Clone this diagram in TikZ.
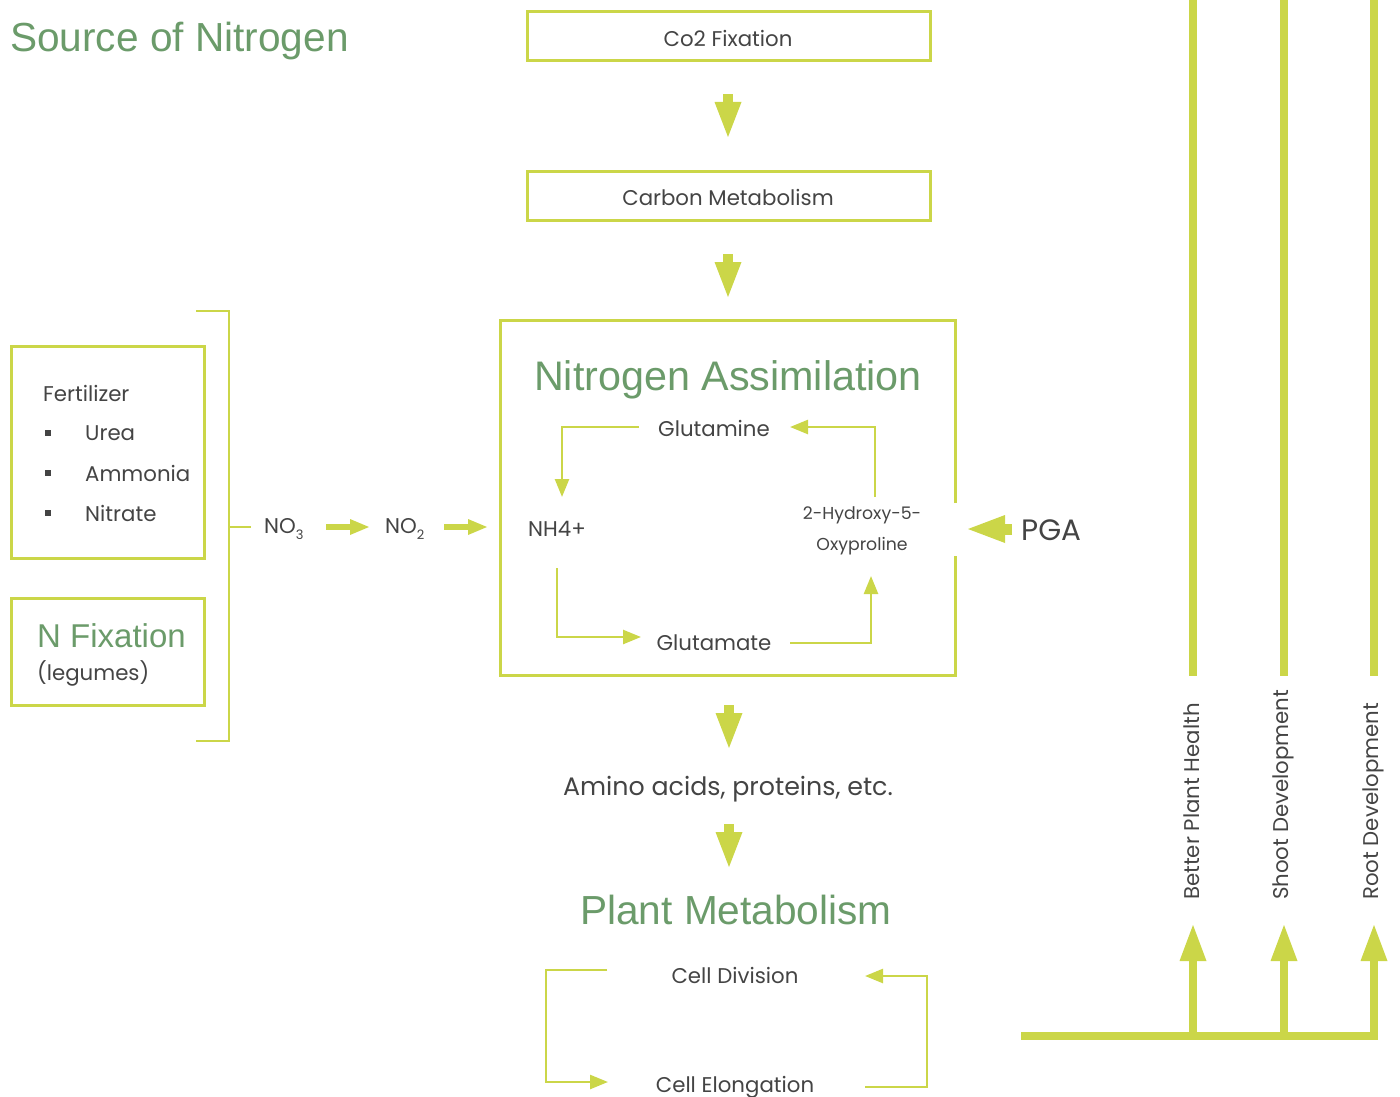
\documentclass[tikz,border=0pt]{standalone}
\usepackage{fontspec}
\setmainfont{Poppins}
\newfontfamily\headf{Liberation Sans}
\usetikzlibrary{arrows.meta,calc}
\definecolor{lime}{RGB}{203,214,72}
\definecolor{leaf}{RGB}{107,155,106}
\definecolor{ink}{RGB}{68,68,68}
\begin{document}
\begin{tikzpicture}[x=1pt,y=-1pt,
  box/.style={draw=lime,line width=3pt,inner sep=0pt},
  txt/.style={text=ink,inner sep=0pt,font=\fontsize{21.3}{25}\selectfont},
  bigtxt/.style={text=ink,inner sep=0pt,font=\fontsize{25.3}{30}\selectfont},
  smalltxt/.style={text=ink,inner sep=0pt,font=\fontsize{17.3}{21}\selectfont},
  head/.style={text=leaf,inner sep=0pt,font=\headf\fontsize{40.6}{48}\selectfont},
  loopline/.style={draw=lime,line width=2.5pt,line join=miter},
  looparrow/.style={loopline,-{Triangle[width=14pt,length=18pt]}},
  thickline/.style={draw=lime,line width=8pt},
  fatdown/.pic={\fill[lime] (-5,0) rectangle (5,9);
    \fill[lime] (-13.5,8) -- (13.5,8) -- (0,43) -- cycle;},
  fatup/.pic={\fill[lime] (-13.5,0) -- (13.5,0) -- (0,-36) -- cycle;},
  smallright/.pic={\fill[lime] (0,-3) rectangle (25,3);
    \fill[lime] (24,-8) -- (24,8) -- (43,0) -- cycle;},
]
\useasboundingbox (0,0) rectangle (1400,1097);

% titles
\node[head,anchor=base west] (src) at (10,52) {Source of Nitrogen};

% top boxes
\node[box,minimum width=403pt,minimum height=49pt] (co2) at (728.5,36.5) {};
\node[txt] (co2t) at (728,38) {Co2 Fixation};
\node[box,minimum width=403pt,minimum height=49pt] (carb) at (728.5,195.5) {};
\node[txt] (carbt) at (728,197) {Carbon Metabolism};
\pic at (728,94) {fatdown};
\pic at (728,254) {fatdown};

% nitrogen assimilation box with gap on the right
\node[minimum width=454pt,minimum height=354pt,inner sep=0pt] (na) at (728,498) {};
\coordinate (gapTop) at (na.east |- 0,503);
\coordinate (gapBot) at (na.east |- 0,556);
\draw[draw=lime,line width=3pt] (gapTop) -- (na.north east) -- (na.north west)
  -- (na.south west) -- (na.south east) -- (gapBot);
\node[head,font=\headf\fontsize{41.3}{48}\selectfont] (nat) at (728,380) {Nitrogen Assimilation};

\node[txt] (gln) at (714,428) {Glutamine};
\node[txt] (nh4) at (557,529) {NH4+};
\node[smalltxt] (hyd1) at (862,515) {2-Hydroxy-5-};
\node[smalltxt] (hyd2) at (862,546) {Oxyproline};
\node[txt] (glu) at (714,643) {Glutamate};

\coordinate (a1s) at (639,427);
\coordinate (a1c) at (562,427);
\coordinate (a1e) at (562,497);
\draw[looparrow] (a1s) -- (a1c) -- (a1e);
\coordinate (a2s) at (875,497);
\coordinate (a2c) at (875,427);
\coordinate (a2e) at (790,427);
\draw[looparrow] (a2s) -- (a2c) -- (a2e);
\coordinate (a3s) at (557,568);
\coordinate (a3c) at (557,637);
\coordinate (a3e) at (641,637);
\draw[looparrow] (a3s) -- (a3c) -- (a3e);
\coordinate (a4s) at (790,643);
\coordinate (a4c) at (871,643);
\coordinate (a4e) at (871,576);
\draw[looparrow] (a4s) -- (a4c) -- (a4e);

% PGA
\node[text=ink,inner sep=0pt,font=\fontsize{29.5}{34}\selectfont,anchor=west] (pga) at (1021,530) {PGA};
\fill[lime] (1012,524) rectangle (1003,535);
\fill[lime] (1005,515) -- (1005,543) -- (968,529) -- cycle;

% left source boxes
\node[box,minimum width=193pt,minimum height=212pt] (fert) at (107.5,452) {};
\node[txt,anchor=west] (fertt) at (43,393) {Fertilizer};
\foreach \yy/\nm/\lab in {433/urea/Urea,473/amm/Ammonia,513/nit/Nitrate}{
  \node[fill=ink,minimum size=6pt,inner sep=0pt] (b\nm) at (48,\yy) {};
  \node[txt,anchor=west] (\nm) at (85,\yy) {\lab};
}
\node[box,minimum width=193pt,minimum height=107pt] (nfix) at (107.5,651.5) {};
\node[head,font=\headf\fontsize{33}{38}\selectfont,anchor=west] (nfixt) at (37,636) {N Fixation};
\node[txt,anchor=west] (leg) at (37,673) {(legumes)};

% bracket
\coordinate (brTL) at (196,311);
\coordinate (brTR) at (229,311);
\coordinate (brBR) at (229,741);
\coordinate (brBL) at (196,741);
\coordinate (brM) at (229,527);
\coordinate (brT) at (251,527);
\draw[draw=lime,line width=2.5pt,line join=miter] (brTL) -- (brTR) -- (brBR) -- (brBL);
\draw[draw=lime,line width=2.5pt] (brM) -- (brT);

\node[txt,anchor=west] (no3) at (264,529) {NO\raisebox{-0.55ex}{\fontsize{13}{15}\selectfont 3}};
\pic at (326,527) {smallright};
\node[txt,anchor=west] (no2) at (385,529) {NO\raisebox{-0.55ex}{\fontsize{13}{15}\selectfont 2}};
\pic at (444,527) {smallright};

% below
\pic at (729,705) {fatdown};
\node[bigtxt] (amino) at (728,789) {Amino acids, proteins, etc.};
\pic at (729,824) {fatdown};
\node[head] (pm) at (736,910) {Plant Metabolism};
\node[txt] (cdiv) at (735,975) {Cell Division};
\node[txt] (celo) at (735,1087) {Cell Elongation};
\coordinate (c1s) at (607,970);
\coordinate (c1c) at (546,970);
\coordinate (c1d) at (546,1082);
\coordinate (c1e) at (608,1082);
\draw[looparrow] (c1s) -- (c1c) -- (c1d) -- (c1e);
\coordinate (c2s) at (865,1087);
\coordinate (c2c) at (927,1087);
\coordinate (c2d) at (927,976);
\coordinate (c2e) at (865,976);
\draw[looparrow] (c2s) -- (c2c) -- (c2d) -- (c2e);

% right side
\foreach \xx/\nm/\lab in {1193/bph/Better Plant Health,1284/sd/Shoot Development,1374/rd/Root Development}{
  \coordinate (\nm top) at (\xx,0);
  \coordinate (\nm bot) at (\xx,676);
  \draw[thickline] (\nm top) -- (\nm bot);
  \node[txt,rotate=90,anchor=west] (\nm) at (\xx-1,900) {\lab};
  \pic at (\xx,961) {fatup};
}
\coordinate (hl) at (1021,1036);
\draw[thickline,line join=miter] (hl) -- (1374,1036) -- (1374,958);
\draw[thickline] (1193,1036) -- (1193,958);
\draw[thickline] (1284,1036) -- (1284,958);
\end{tikzpicture}
\end{document}
